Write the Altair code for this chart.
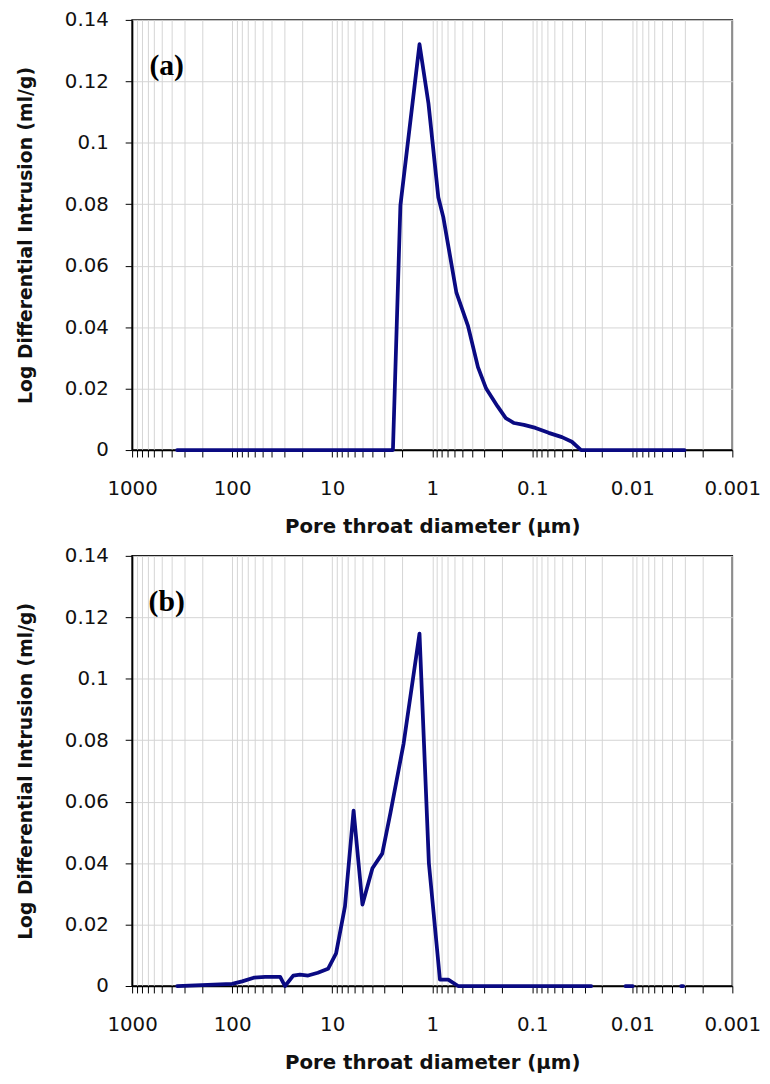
import altair as alt
import pandas as pd

# Panel (a) — pore throat diameter (µm) and log differential intrusion (ml/g)
a_diam = [355, 2.47, 2.08, 1.34, 1.09, 0.869, 0.775, 0.573, 0.439, 0.349, 0.289,
          0.222, 0.184, 0.152, 0.121, 0.0927, 0.0685, 0.0505, 0.0402, 0.0325, 0.003]
a_val = [0, 0, 0.0796, 0.1321, 0.1128, 0.0823, 0.0758, 0.0512, 0.0404, 0.0270, 0.0200,
         0.0142, 0.0104, 0.0088, 0.0082, 0.0072, 0.0056, 0.0042, 0.0027, 0, 0]
a_seg = [0] * len(a_diam)

# Panel (b)
b_diam = [355, 100, 79.4, 60.8, 46.7, 33.1, 29.6, 24.5, 21.0, 17.4, 13.9, 11.0, 9.14,
          7.45, 6.11, 4.98, 3.96, 3.16, 2.61, 1.93, 1.34, 1.08, 0.837, 0.692, 0.551, 0.0257,
          0.0117, 0.0099,
          0.00325, 0.0031]
b_val = [0, 0.0007, 0.0015, 0.0027, 0.0030, 0.0030, 0, 0.0034, 0.0037, 0.0034, 0.0043,
         0.0056, 0.0106, 0.0259, 0.0571, 0.0265, 0.0383, 0.0431, 0.0565, 0.0790, 0.1147,
         0.0400, 0.0021, 0.0021, 0, 0,
         0, 0,
         0, 0]
b_seg = [0] * 26 + [1, 1] + [2, 2]

x_tick_values = sorted(set([round(m * 10 ** k, 6) for k in range(-3, 3) for m in range(1, 10)] + [1000]))
y_tick_values = [0, 0.02, 0.04, 0.06, 0.08, 0.1, 0.12, 0.14]

LINE_COLOR = "#0a0a82"


def panel(diam, val, seg, letter):
    df = pd.DataFrame({"d": diam, "v": val, "seg": seg, "i": list(range(len(diam)))})
    x = alt.X(
        "d:Q",
        scale=alt.Scale(type="log", domain=[0.001, 1000], reverse=True),
        axis=alt.Axis(
            values=x_tick_values,
            format="~g",
            labelExpr="abs(log(datum.value)/LN10 - round(log(datum.value)/LN10)) < 1e-6 ? datum.label : ''",
            title="Pore throat diameter (µm)",
            titleFontSize=20,
            tickSize=7,
            labelPadding=21.5,
            titlePadding=18.5,
            labelFlush=False,
            labelOverlap=False,
        ),
    )
    y = alt.Y(
        "v:Q",
        scale=alt.Scale(domain=[0, 0.14], nice=False),
        axis=alt.Axis(
            values=y_tick_values,
            format="~g",
            title="Log Differential Intrusion (ml/g)",
            titleFontSize=19,
            tickSize=7,
            labelPadding=17,
            titlePadding=29,
        ),
    )
    line = alt.Chart(df).mark_line(
        color=LINE_COLOR, strokeWidth=3.8, strokeJoin="round", strokeCap="round"
    ).encode(x=x, y=y, detail="seg:N", order="i:Q")
    label = alt.Chart(pd.DataFrame({"t": [letter]})).mark_text(
        font="Liberation Serif", fontWeight="bold", fontSize=30, align="center", baseline="middle", color="black"
    ).encode(text="t:N", x=alt.value(35), y=alt.value(47))
    return alt.layer(line, label).properties(width=607, height=435)


pa = panel(a_diam, a_val, a_seg, "(a)")
pb = panel(b_diam, b_val, b_seg, "(b)")

chart = (
    alt.vconcat(pa, pb, spacing=8)
    .properties(padding={"left": 7.5, "top": -5, "right": 0, "bottom": 0}, background="white")
    .configure_view(stroke="black", strokeWidth=1.5)
    .configure_axis(
        labelFont="DejaVu Sans",
        labelFontSize=20,
        labelColor="#111111",
        titleFont="DejaVu Sans",
        titleFontWeight="bold",
        titleColor="#111111",
        gridColor="#d4d4d4",
        gridWidth=1,
        domainColor="black",
        domainWidth=1.5,
        tickColor="black",
        tickWidth=1,
    )
)

chart.save("out.html", embed_options={"renderer": "svg", "actions": False})
